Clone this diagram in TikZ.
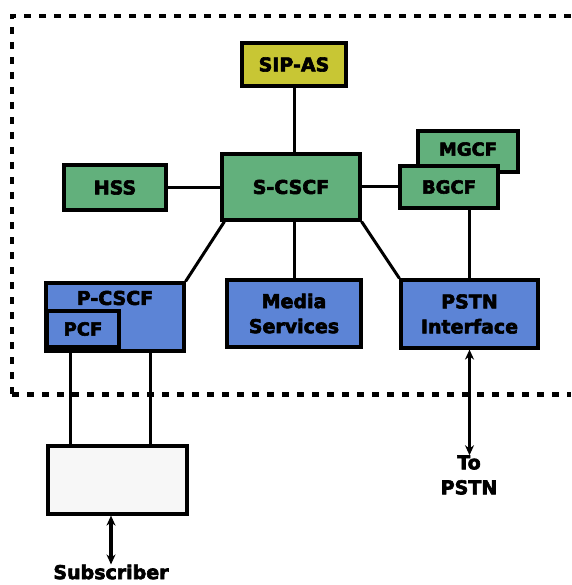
\documentclass[tikz,border=0pt]{standalone}
\usepackage{fontspec}
\setmainfont{DejaVu Sans}[BoldFeatures={FakeBold=3.2}]
\usetikzlibrary{arrows.meta}
\definecolor{imsgreen}{RGB}{98,176,124}
\definecolor{imsblue}{RGB}{92,132,214}
\definecolor{imsyellow}{RGB}{200,198,52}
\tikzset{
  box/.style={draw=black, line width=3.2pt, inner sep=0pt, font=\fontsize{19}{25}\selectfont\bfseries, align=center},
  greenbox/.style={box, fill=imsgreen},
  bluebox/.style={box, fill=imsblue},
  link/.style={line width=3pt},
  border/.style={line width=3.5pt, dash pattern=on 7pt off 8pt},
  ext/.style={line width=3.5pt, {Stealth[length=10pt,width=9pt]}-{Stealth[length=10pt,width=9pt]}},
  lbl/.style={font=\fontsize{19}{25}\selectfont\bfseries, align=center, inner sep=0pt}
}
\begin{document}
\begin{tikzpicture}[x=1pt, y=-1pt]
\useasboundingbox (0,0) rectangle (571,585);
% network domain boundary
\coordinate (b1) at (12,16);
\coordinate (b2) at (571,16);
\coordinate (b3) at (12,394);
\coordinate (b4) at (571,394);
\draw[border] (b2) -- (b1) -- (b3);
\draw[border, line width=5pt] (b3) -- (b4);

% functional entities
\node[box, fill=imsyellow, minimum width=104pt, minimum height=43pt] (sipas) at (294,64.5) {SIP-AS};
\node[greenbox, minimum width=138pt, minimum height=66pt] (scscf) at (291,187) {S-CSCF};
\node[greenbox, minimum width=102pt, minimum height=45pt] (hss) at (115,187.5) {HSS};
\node[greenbox, minimum width=100pt, minimum height=41pt, font=\fontsize{18}{22}\selectfont\bfseries] (mgcf) at (468,151.5) {\raisebox{5pt}{MGCF}};
\node[greenbox, minimum width=98pt, minimum height=42pt, font=\fontsize{18}{22}\selectfont\bfseries] (bgcf) at (449,187) {BGCF};
\node[bluebox, minimum width=138pt, minimum height=68pt] (pcscf) at (115,317) {};
\node[lbl] (pcscftxt) at (115,298) {P-CSCF};
\node[bluebox, minimum width=72pt, minimum height=36pt, font=\fontsize{18}{22}\selectfont\bfseries] (pcf) at (83,329) {PCF};
\node[bluebox, minimum width=134pt, minimum height=67pt] (media) at (294,313.5) {Media\\Services};
\node[bluebox, minimum width=137pt, minimum height=68pt] (pstn) at (469.5,314) {PSTN\\Interface};
\node[box, fill=gray!6, minimum width=139pt, minimum height=68pt] (sub) at (117.5,480) {};

% external labels
\node[lbl] (topstn) at (469,475) {To\\PSTN};
\node[lbl] (subscr) at (111,572) {Subscriber};

% signalling links
\draw[link] (sipas.south) -- (sipas.south |- scscf.north);
\draw[link] (hss.east) -- (hss.east -| scscf.west);
\draw[link] (scscf.east) -- (scscf.east -| bgcf.west);
\draw[link] ([xshift=4pt]scscf.south west) -- (pcscf.north east);
\draw[link] (media.north) -- (media.north |- scscf.south);
\draw[link] (scscf.south east) -- (pstn.north west);
\draw[link] (pstn.north) -- (pstn.north |- bgcf.south);
\draw[link] ([xshift=26pt]pcscf.south west) -- ([xshift=24pt]sub.north west);
\draw[link] ([xshift=106pt]pcscf.south west) -- ([xshift=104pt]sub.north west);

% external access
\draw[ext] (pstn.south) -- (pstn.south |- topstn.north);
\draw[ext] ([xshift=-6.5pt]sub.south) -- ([xshift=-6.5pt]sub.south |- subscr.north);
\end{tikzpicture}
\end{document}
